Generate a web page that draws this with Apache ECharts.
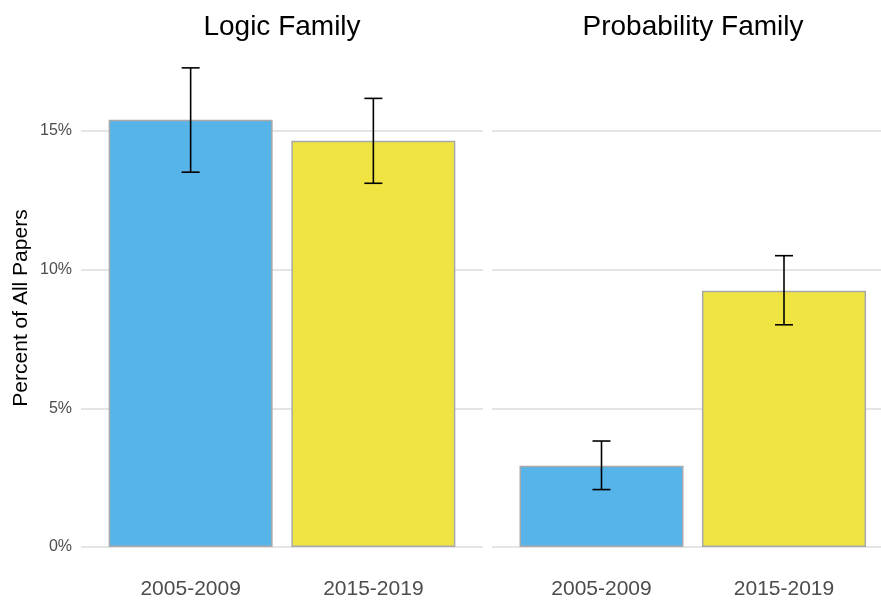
<!DOCTYPE html>
<html>
<head>
<meta charset="utf-8">
<script src="https://cdn.jsdelivr.net/npm/echarts@6/dist/echarts.min.js"></script>
<style>html,body{margin:0;padding:0;background:#fff;}#c{width:881px;height:604px;}</style>
</head>
<body>
<div id="c"></div>
<script>
// Data
const panels = ['Logic Family', 'Probability Family'];
const periods = ['2005-2009', '2015-2019'];
const logicValues = [15.40, 14.64];
const logicLow = [13.51, 13.11];
const logicHigh = [17.27, 16.17];
const probValues = [2.93, 9.24];
const probLow = [2.07, 8.01];
const probHigh = [3.82, 10.50];
const yTicks = [0, 5, 10, 15];
const yTitle = 'Percent of All Papers';
const barColors = ['#56B4E9', '#F0E442'];

const chart = echarts.init(document.getElementById('c'), null, {renderer: 'canvas'});
const FONT = '"Liberation Sans", Arial, sans-serif';

function barData(vals) {
  return vals.map((v, i) => ({
    value: [i + 1, v],
    itemStyle: {color: barColors[i], borderColor: '#a9a9a9', borderWidth: 1.5}
  }));
}
function errData(lo, hi) {
  return lo.map((l, i) => [i + 1, l, hi[i]]);
}
function renderErr(params, api) {
  const x = api.value(0);
  const p1 = api.coord([x, api.value(1)]);
  const p2 = api.coord([x, api.value(2)]);
  const half = 9;
  const st = {stroke: '#000', lineWidth: 1.6};
  return {
    type: 'group',
    children: [
      {type: 'line', shape: {x1: p1[0], y1: p1[1], x2: p2[0], y2: p2[1]}, style: st},
      {type: 'line', shape: {x1: p1[0] - half, y1: p1[1], x2: p1[0] + half, y2: p1[1]}, style: st},
      {type: 'line', shape: {x1: p2[0] - half, y1: p2[1], x2: p2[0] + half, y2: p2[1]}, style: st}
    ]
  };
}

const yMax = 18.13;
function xAxis(gi, xmax) {
  return {
    type: 'value', gridIndex: gi, min: 0.4, max: xmax,
    axisLine: {show: false}, axisTick: {show: false, customValues: [1, 2]}, splitLine: {show: false},
    axisLabel: {
      customValues: [1, 2], margin: 32, color: '#4d4d4d', fontSize: 21, fontFamily: FONT,
      formatter: v => periods[Math.round(v) - 1] || ''
    }
  };
}
function yAxis(gi, showLabels) {
  return {
    type: 'value', gridIndex: gi, min: 0, max: yMax,
    axisLine: {show: false},
    axisTick: {show: false, customValues: yTicks},
    splitLine: {show: true, lineStyle: {color: '#dcdcdc', width: 1.5}},
    axisLabel: {
      show: showLabels, customValues: yTicks, margin: 9, color: '#4d4d4d', fontSize: 16, fontFamily: FONT,
      formatter: v => v + '%'
    }
  };
}

chart.setOption({
  animation: false,
  backgroundColor: '#fff',
  title: [
    {text: panels[0], left: 277, top: 8, textAlign: 'center',
     textStyle: {fontSize: 28, fontWeight: 'normal', color: '#000', fontFamily: FONT}},
    {text: panels[1], left: 688, top: 8, textAlign: 'center',
     textStyle: {fontSize: 28, fontWeight: 'normal', color: '#000', fontFamily: FONT}}
  ],
  graphic: [
    {type: 'text', x: 21, y: 308, rotation: Math.PI / 2,
     style: {text: yTitle, fill: '#000', fontSize: 21, fontFamily: FONT, align: 'center', verticalAlign: 'middle'}}
  ],
  grid: [
    {left: 81, top: 44, width: 402, bottom: 57, containLabel: false},
    {left: 492, top: 44, right: 0, bottom: 57, containLabel: false}
  ],
  xAxis: [xAxis(0, 2.6), xAxis(1, 2.5315)],
  yAxis: [yAxis(0, true), yAxis(1, false)],
  series: [
    {type: 'bar', xAxisIndex: 0, yAxisIndex: 0, barWidth: 164, data: barData(logicValues)},
    {type: 'bar', xAxisIndex: 1, yAxisIndex: 1, barWidth: 164, data: barData(probValues)},
    {type: 'custom', xAxisIndex: 0, yAxisIndex: 0, renderItem: renderErr, data: errData(logicLow, logicHigh), z: 10},
    {type: 'custom', xAxisIndex: 1, yAxisIndex: 1, renderItem: renderErr, data: errData(probLow, probHigh), z: 10}
  ]
});
</script>
</body>
</html>
